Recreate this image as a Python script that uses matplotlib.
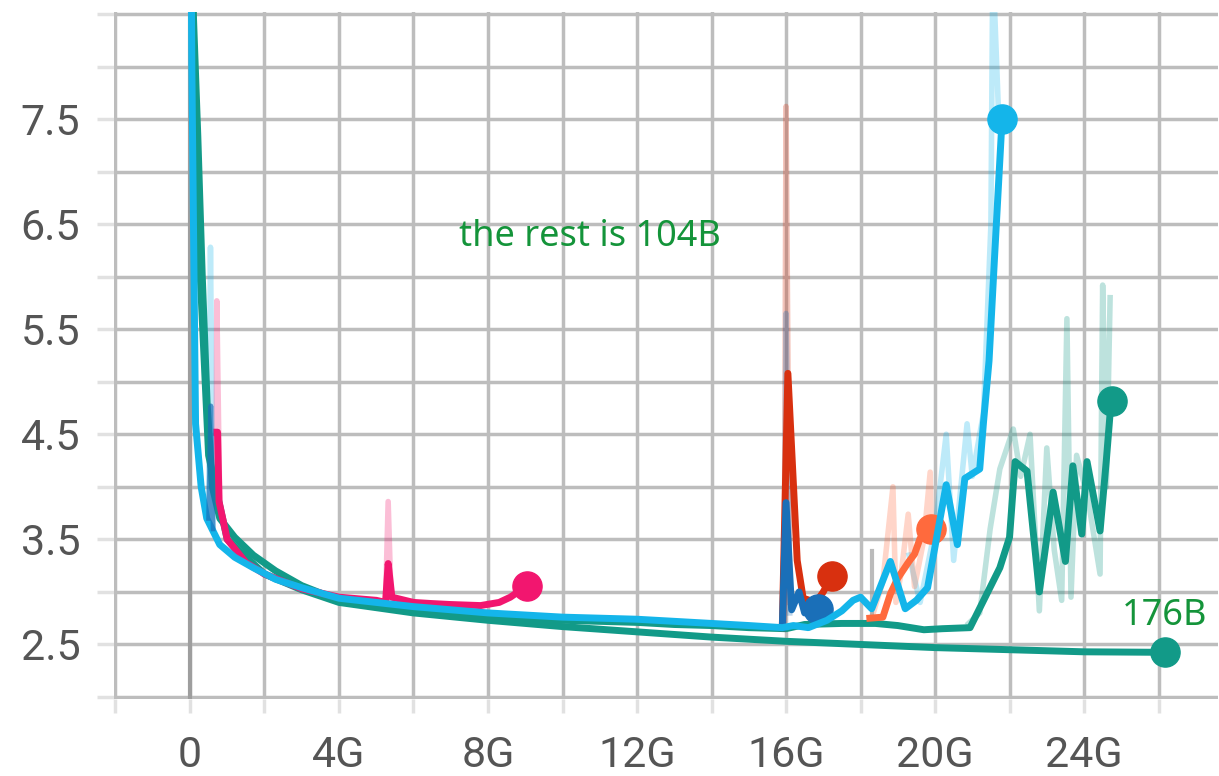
import matplotlib
matplotlib.use("Agg")
import matplotlib.pyplot as plt
from matplotlib.ticker import FixedLocator, NullFormatter

# tokens seen (G) and loss
blue_x = [0.0, 0.05, 0.15, 0.3, 0.45, 0.8, 1.2, 1.7, 2.3, 3.0, 4.0, 5.0, 6.0, 7.0, 8.0,
          9.0, 10.0, 11.0, 12.0, 13.0, 14.0, 15.0, 15.9, 16.2, 16.6, 17.1, 17.5, 17.8,
          18.0, 18.3, 18.8, 19.2, 19.5, 19.8, 20.3, 20.6, 20.8, 21.2, 21.3, 21.45, 21.6, 21.8]
blue_y = [11.0, 8.0, 4.6, 4.0, 3.7, 3.45, 3.33, 3.23, 3.12, 3.04, 2.94, 2.90, 2.86, 2.83, 2.80,
          2.78, 2.76, 2.75, 2.74, 2.72, 2.70, 2.68, 2.66, 2.68, 2.66, 2.73, 2.82, 2.92,
          2.95, 2.84, 3.29, 2.84, 2.92, 3.04, 4.02, 3.45, 4.08, 4.17, 4.61, 5.2, 6.2, 7.5]
blue_raw_early_x = [0.5, 0.55, 0.62]
blue_raw_early_y = [3.7, 6.28, 3.6]
blue_raw_x = [19.3, 19.6, 20.0, 20.3, 20.5, 20.86, 21.0, 21.3, 21.5, 21.55, 21.7, 21.8]
blue_raw_y = [3.35, 2.9, 3.6, 4.5, 3.3, 4.6, 4.1, 4.7, 6.5, 9.0, 7.6, 7.5]

teal_x = [0.0, 0.08, 0.21, 0.33, 0.46, 0.6, 0.8, 1.2, 1.7, 2.3, 3.0, 4.0, 5.0, 6.0, 7.0, 8.0,
          9.0, 10.0, 11.0, 12.0, 13.0, 14.0, 15.0, 16.0, 16.5, 17.5, 18.4, 19.0, 19.7, 20.2,
          20.94, 21.74, 22.0, 22.15, 22.47, 22.8, 23.17, 23.5, 23.7, 23.94, 24.08, 24.43,
          24.6, 24.7, 24.75]
teal_y = [11.0, 8.6, 7.34, 6.0, 4.8, 4.0, 3.7, 3.52, 3.35, 3.2, 3.06, 2.92, 2.86, 2.82, 2.79,
          2.77, 2.75, 2.73, 2.72, 2.71, 2.69, 2.68, 2.66, 2.65, 2.69, 2.70, 2.70, 2.68, 2.64,
          2.65, 2.66, 3.23, 3.52, 4.24, 4.15, 3.0, 3.95, 3.29, 4.2, 3.55, 4.24, 3.58,
          4.26, 4.7, 4.82]
teal_raw_x = [20.9, 21.2, 21.48, 21.74, 22.1, 22.3, 22.55, 22.8, 23.0, 23.2, 23.4, 23.54,
              23.65, 23.8, 24.1, 24.43, 24.5, 24.6, 24.7]
teal_raw_y = [2.7, 2.8, 3.6, 4.17, 4.55, 4.1, 4.5, 2.82, 4.37, 3.4, 2.92, 5.6,
              2.95, 4.3, 3.9, 3.17, 5.92, 4.0, 5.8]

big_x = [0.0, 0.1, 0.25, 0.5, 1.0, 2.0, 3.0, 4.0, 6.0, 8.0, 10.0, 12.0, 14.0, 16.0, 18.0,
         20.0, 22.0, 24.0, 26.17]
big_y = [11.0, 8.0, 6.2, 4.3, 3.5, 3.17, 3.02, 2.9, 2.8, 2.73, 2.67, 2.62, 2.57, 2.53, 2.5,
         2.47, 2.45, 2.43, 2.425]

pink_x = [0.72, 0.74, 0.78, 1.0, 1.5, 2.0, 3.0, 4.0, 5.0, 5.25, 5.32, 5.42, 6.0, 6.45, 7.0,
          7.8, 8.3, 8.6, 9.05]
pink_y = [4.52, 4.52, 3.86, 3.5, 3.28, 3.17, 3.03, 2.95, 2.92, 2.9, 3.27, 2.95, 2.9, 2.89, 2.88,
          2.87, 2.9, 2.95, 3.06]
pink_raw_early_x = [0.7, 0.72, 0.8]
pink_raw_early_y = [3.9, 5.77, 3.8]
pink_raw_x = [5.25, 5.32, 5.4]
pink_raw_y = [2.9, 3.86, 2.9]

red_x = [15.9, 16.05, 16.3, 16.46, 16.8, 17.0, 17.23]
red_y = [2.66, 5.08, 3.30, 2.94, 2.9, 3.0, 3.15]
red_raw_x = [15.95, 16.0, 16.1]
red_raw_y = [2.66, 7.62, 2.9]

dblue_x = [15.9, 16.0, 16.15, 16.35, 16.5, 16.7, 16.85]
dblue_y = [2.66, 3.85, 2.83, 3.0, 2.8, 2.86, 2.84]
dblue_raw_x = [15.95, 16.0, 16.1]
dblue_raw_y = [2.66, 5.65, 2.8]
dblue_early_x = [0.5, 0.56, 0.62]
dblue_early_y = [3.7, 4.77, 3.6]

orange_x = [18.25, 18.6, 18.8, 19.0, 19.3, 19.45, 19.6, 19.9]
orange_y = [2.75, 2.76, 2.98, 3.13, 3.29, 3.36, 3.51, 3.6]
orange_raw_x = [18.3, 18.6, 18.87, 18.95, 19.1, 19.28, 19.45, 19.7, 19.87, 19.9]
orange_raw_y = [2.75, 3.1, 4.0, 2.9, 3.2, 3.74, 3.05, 3.5, 4.14, 3.6]

gray_x = [0.0, 0.0]
gray_y = [2.0, 9.0]
gray2_x = [18.3, 18.3]
gray2_y = [2.75, 3.39]

xticks = [0, 4, 8, 12, 16, 20, 24]
xtick_labels = ["0", "4G", "8G", "12G", "16G", "20G", "24G"]
xminor = [-2, 2, 6, 10, 14, 18, 22, 26]
yticks = [2.5, 3.5, 4.5, 5.5, 6.5, 7.5]
yminor = [2.0, 3.0, 4.0, 5.0, 6.0, 7.0, 8.0, 8.5]

BLUE = "#14b5ea"
TEAL = "#129a88"
PINK = "#f2166f"
RED = "#d8300f"
DBLUE = "#1a6fb8"
ORANGE = "#ff6a3d"
GRAY = "#9e9e9e"
GREEN = "#14943a"

fig = plt.figure(figsize=(12.19, 7.76), dpi=100)
ax = fig.add_axes([0.0932, 0.0991, 0.9061, 0.8856])

lw = 5.0
raw_a = 0.28
# faded raw curves
for rx, ry, c in [(blue_raw_early_x, blue_raw_early_y, BLUE), (blue_raw_x, blue_raw_y, BLUE),
                  (teal_raw_x, teal_raw_y, TEAL), (pink_raw_early_x, pink_raw_early_y, PINK),
                  (pink_raw_x, pink_raw_y, PINK), (red_raw_x, red_raw_y, RED),
                  (dblue_raw_x, dblue_raw_y, DBLUE), (orange_raw_x, orange_raw_y, ORANGE)]:
    ax.plot(rx, ry, color=c, alpha=raw_a, lw=4)

# smoothed curves
ax.plot(gray_x, gray_y, color=GRAY, lw=3)
ax.plot(gray2_x, gray2_y, color=GRAY, lw=3, alpha=0.7)
ax.plot(big_x, big_y, color=TEAL, lw=lw)
ax.plot(big_x[-1], big_y[-1], "o", color=TEAL, ms=21)
ax.plot(teal_x, teal_y, color=TEAL, lw=lw)
ax.plot(teal_x[-1], teal_y[-1], "o", color=TEAL, ms=21)
ax.plot(orange_x, orange_y, color=ORANGE, lw=lw)
ax.plot(orange_x[-1], orange_y[-1], "o", color=ORANGE, ms=21)
ax.plot(red_x, red_y, color=RED, lw=lw)
ax.plot(red_x[-1], red_y[-1], "o", color=RED, ms=21)
ax.plot(dblue_x, dblue_y, color=DBLUE, lw=lw)
ax.plot(dblue_x[-1], dblue_y[-1], "o", color=DBLUE, ms=21)
ax.plot(pink_x, pink_y, color=PINK, lw=lw)
ax.plot(pink_x[-1], pink_y[-1], "o", color=PINK, ms=21)
ax.plot(blue_x, blue_y, color=BLUE, lw=lw)
ax.plot(blue_x[-1], blue_y[-1], "o", color=BLUE, ms=21)
ax.plot(dblue_early_x, dblue_early_y, color=DBLUE, lw=3.5, alpha=0.7)

ax.text(10.74, 6.38, "the rest is 104B", color=GREEN, fontsize=26,
        family="Noto Sans", ha="center", va="center")
ax.text(26.15, 2.77, "176B", color=GREEN, fontsize=26,
        family="Noto Sans", ha="center", va="center")

ax.set_xlim(-2.05, 27.6)
ax.set_ylim(1.98, 8.52)
ax.xaxis.set_major_locator(FixedLocator(xticks))
ax.xaxis.set_minor_locator(FixedLocator(xminor))
ax.set_xticklabels(xtick_labels)
ax.xaxis.set_minor_formatter(NullFormatter())
ax.yaxis.set_major_locator(FixedLocator(yticks))
ax.yaxis.set_minor_locator(FixedLocator(yminor))
ax.set_yticklabels([f"{v:.1f}" for v in yticks])
ax.yaxis.set_minor_formatter(NullFormatter())

gc = (0.74, 0.74, 0.74, 0.45)
ax.grid(True, which="both", color=gc, lw=2.5)
ax.set_axisbelow(True)
for s in ax.spines.values():
    s.set_visible(False)
ax.tick_params(axis="x", which="both", length=10, width=2.5, color=gc, pad=16,
               labelsize=31, labelcolor="#555555")
ax.tick_params(axis="y", which="both", length=12, width=2.5, color=gc, pad=12,
               labelsize=31, labelcolor="#555555")
for lab in ax.get_xticklabels() + ax.get_yticklabels():
    lab.set_family("Roboto")

fig.savefig("out.png", dpi=100)
